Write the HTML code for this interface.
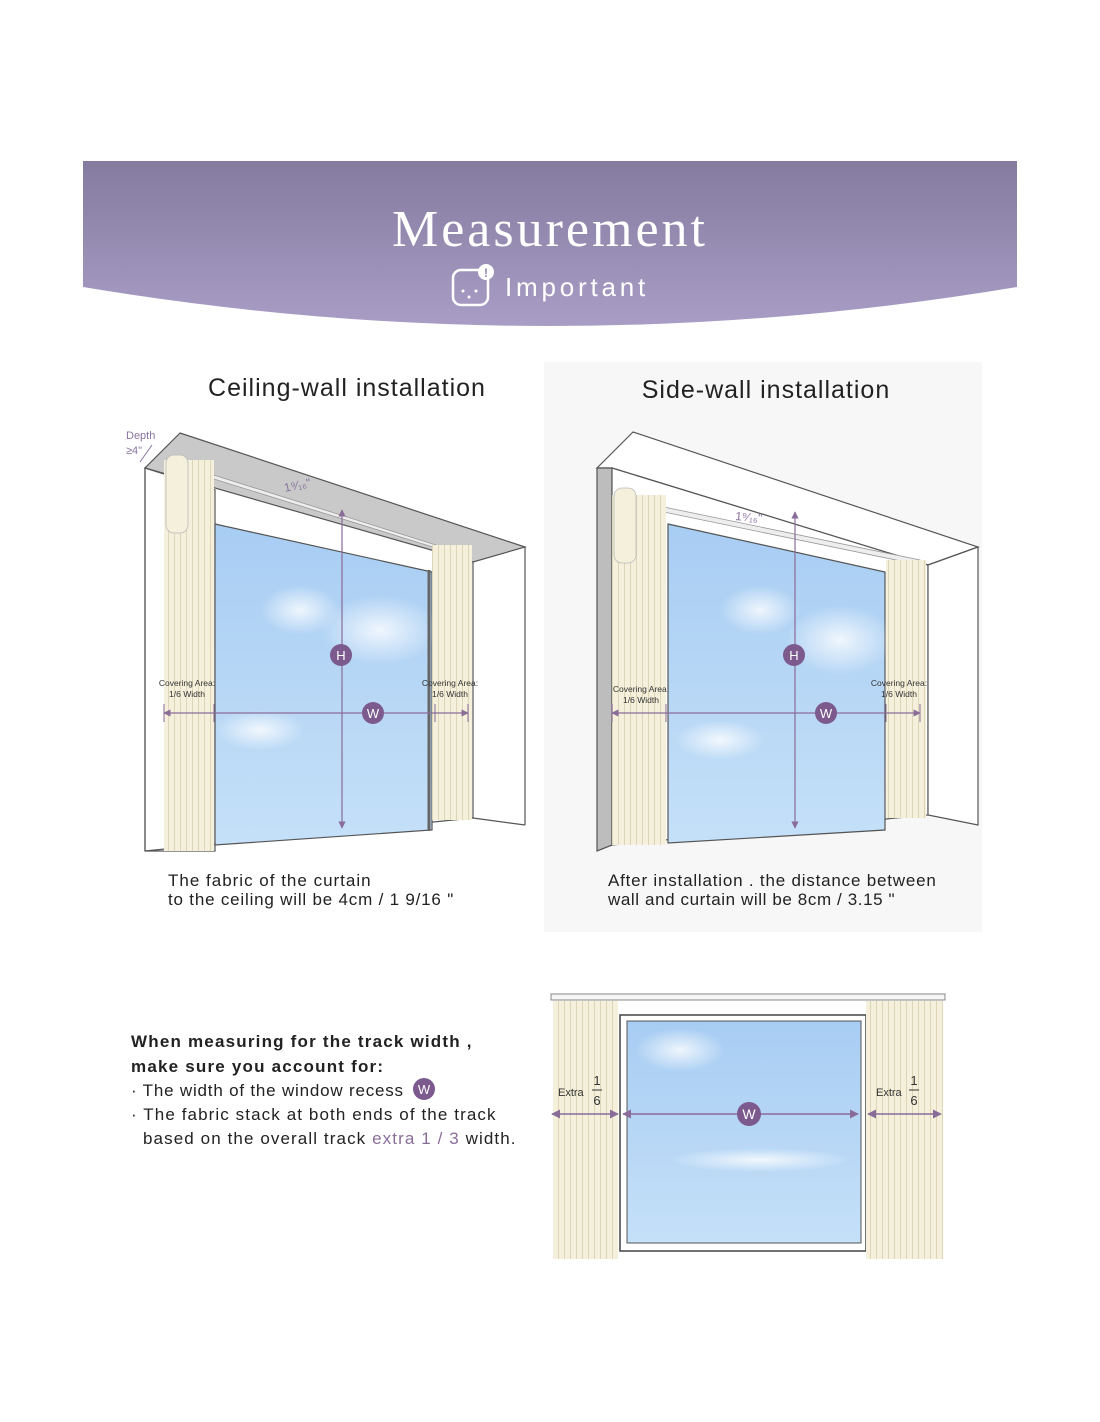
<!DOCTYPE html>
<html><head><meta charset="utf-8"><style>
html,body{margin:0;padding:0;background:#fff;}
svg{display:block;}
text{font-family:"Liberation Sans",sans-serif;}
</style></head><body>
<svg width="1100" height="1422" viewBox="0 0 1100 1422" xmlns="http://www.w3.org/2000/svg">
<defs>
<linearGradient id="hdr" x1="0" y1="0" x2="0" y2="1"><stop offset="0" stop-color="#847b9f"/><stop offset="1" stop-color="#a99dc5"/></linearGradient>
<linearGradient id="sky" x1="0" y1="0" x2="0" y2="1"><stop offset="0" stop-color="#a8cdf3"/><stop offset="1" stop-color="#c5e0f8"/></linearGradient>
<pattern id="cur" width="6" height="10" patternUnits="userSpaceOnUse"><rect width="6" height="10" fill="#f4f0dc"/><line x1="0.5" y1="0" x2="0.5" y2="10" stroke="#dcd5b6" stroke-width="1"/></pattern>
<marker id="ar" viewBox="0 0 10 10" refX="9" refY="5" markerWidth="6" markerHeight="6" orient="auto-start-reverse"><path d="M0,0L10,5L0,10z" fill="#8a6c99"/></marker>
<radialGradient id="cl"><stop offset="0" stop-color="#fff" stop-opacity=".8"/><stop offset="1" stop-color="#fff" stop-opacity="0"/></radialGradient>
</defs>

<path d="M83,161 H1017 V287 Q550,365 83,287 Z" fill="url(#hdr)"/>
<text x="550" y="246" text-anchor="middle" font-size="52" fill="#fff" letter-spacing="3" style="font-family:'Liberation Serif',serif">Measurement</text>
<rect x="453" y="270" width="35" height="35" rx="8" fill="none" stroke="#fff" stroke-width="2.5"/>
<circle cx="486" cy="272" r="8" fill="#fff"/><text x="486" y="277" text-anchor="middle" font-size="12" font-weight="bold" fill="#9186ad">!</text>
<circle cx="463" cy="291" r="1.5" fill="#fff"/><circle cx="476" cy="291" r="1.5" fill="#fff"/><circle cx="469" cy="297" r="1.5" fill="#fff"/>
<text x="505" y="296" font-size="26" fill="#fff" letter-spacing="3.8">Important</text>

<rect x="544" y="362" width="438" height="570" fill="#f7f7f7"/>

<text x="347" y="396" text-anchor="middle" font-size="25" fill="#222" letter-spacing="1">Ceiling-wall installation</text>
<text x="766" y="398" text-anchor="middle" font-size="25" fill="#222" letter-spacing="1">Side-wall installation</text>

<g stroke="#555" stroke-width="1.2">
<polygon points="180,433 525,547 473,562 145,468" fill="#c9c9c9"/>
<polygon points="145,468 215,490 215,851 145,851" fill="#fff"/>
<line x1="145" y1="468" x2="145" y2="851"/>
<line x1="473" y1="562" x2="473" y2="818"/>
<line x1="525" y1="547" x2="525" y2="825"/>
<line x1="473" y1="818" x2="525" y2="825"/>
<line x1="145" y1="851" x2="473" y2="818" />
</g>
<polygon points="215,524 432,572 432,830 215,845" fill="url(#sky)" stroke="#555" stroke-width="1.2"/>
<ellipse cx="300" cy="610" rx="40" ry="25" fill="url(#cl)"/><ellipse cx="380" cy="630" rx="60" ry="35" fill="url(#cl)"/><ellipse cx="260" cy="730" rx="45" ry="20" fill="url(#cl)"/>
<line x1="429" y1="570" x2="429" y2="831" stroke="#666" stroke-width="3"/>
<polygon points="185,466 436,545 436,548 185,470" fill="#eee" stroke="#999" stroke-width="0.8"/>
<rect x="164" y="460" width="50" height="391" fill="url(#cur)"/>
<rect x="432" y="545" width="40" height="275" fill="url(#cur)"/>
<rect x="166" y="455" width="22" height="78" rx="8" fill="#f4f0dc" stroke="#bbb" stroke-width="0.8"/>
<text x="126" y="439" font-size="11" fill="#8a74a0">Depth</text>
<text x="126" y="454" font-size="11" fill="#8a74a0">≥4"</text>
<line x1="140" y1="462" x2="152" y2="445" stroke="#8a74a0"/>
<text x="285" y="492" font-size="12" fill="#8a74a0" transform="rotate(-12 285 492)">1⁹⁄₁₆"</text>
<line x1="342" y1="510" x2="342" y2="828" stroke="#8a6c99" stroke-width="1.2" marker-start="url(#ar)" marker-end="url(#ar)"/>
<line x1="164" y1="713" x2="468" y2="713" stroke="#8a6c99" stroke-width="1.2" marker-start="url(#ar)" marker-end="url(#ar)"/>
<line x1="164" y1="704" x2="164" y2="722" stroke="#8a6c99"/><line x1="214" y1="704" x2="214" y2="722" stroke="#8a6c99"/>
<line x1="435" y1="704" x2="435" y2="722" stroke="#8a6c99"/><line x1="468" y1="704" x2="468" y2="722" stroke="#8a6c99"/>
<circle cx="341" cy="655" r="11" fill="#7c5a8d"/><text x="341" y="660" text-anchor="middle" font-size="13" fill="#fff">H</text>
<circle cx="373" cy="713" r="11" fill="#7c5a8d"/><text x="373" y="718" text-anchor="middle" font-size="13" fill="#fff">W</text>
<text x="187" y="686" text-anchor="middle" font-size="8.5" fill="#333">Covering Area:</text><text x="187" y="697" text-anchor="middle" font-size="8.5" fill="#333">1/6 Width</text>
<text x="450" y="686" text-anchor="middle" font-size="8.5" fill="#333">Covering Area:</text><text x="450" y="697" text-anchor="middle" font-size="8.5" fill="#333">1/6 Width</text>
<text x="168" y="886" font-size="17" fill="#222" letter-spacing="1">The fabric of the curtain</text>
<text x="168" y="905" font-size="17" fill="#222" letter-spacing="0.8">to the ceiling will be 4cm / 1 9/16 "</text>

<g stroke="#555" stroke-width="1.2">
<polygon points="633,432 978,547 928,565 612,468 597,468" fill="#fff"/>
<polygon points="597,468 612,468 612,845 597,851" fill="#bdbdbd"/>
<polygon points="612,468 928,565 928,815 612,845" fill="#fff"/>
<polygon points="928,565 978,547 978,825 928,815" fill="#fff"/>
<line x1="597" y1="851" x2="612" y2="845"/>
</g>
<polygon points="668,524 885,572 885,830 668,843" fill="url(#sky)" stroke="#555" stroke-width="1.2"/>
<ellipse cx="760" cy="610" rx="40" ry="25" fill="url(#cl)"/><ellipse cx="840" cy="640" rx="55" ry="35" fill="url(#cl)"/><ellipse cx="720" cy="740" rx="45" ry="20" fill="url(#cl)"/>
<polygon points="630,500 920,560 920,565 630,505" fill="#eee" stroke="#999" stroke-width="0.8"/>
<rect x="612" y="495" width="54" height="350" fill="url(#cur)"/>
<rect x="886" y="560" width="40" height="258" fill="url(#cur)"/>
<rect x="614" y="488" width="22" height="75" rx="8" fill="#f4f0dc" stroke="#bbb" stroke-width="0.8"/>
<text x="735" y="520" font-size="12" fill="#8a74a0" transform="rotate(5 735 520)">1⁹⁄₁₆"</text>
<line x1="795" y1="512" x2="795" y2="828" stroke="#8a6c99" stroke-width="1.2" marker-start="url(#ar)" marker-end="url(#ar)"/>
<line x1="612" y1="713" x2="920" y2="713" stroke="#8a6c99" stroke-width="1.2" marker-start="url(#ar)" marker-end="url(#ar)"/>
<line x1="612" y1="704" x2="612" y2="722" stroke="#8a6c99"/><line x1="666" y1="704" x2="666" y2="722" stroke="#8a6c99"/>
<line x1="886" y1="704" x2="886" y2="722" stroke="#8a6c99"/><line x1="920" y1="704" x2="920" y2="722" stroke="#8a6c99"/>
<circle cx="794" cy="655" r="11" fill="#7c5a8d"/><text x="794" y="660" text-anchor="middle" font-size="13" fill="#fff">H</text>
<circle cx="826" cy="713" r="11" fill="#7c5a8d"/><text x="826" y="718" text-anchor="middle" font-size="13" fill="#fff">W</text>
<text x="641" y="692" text-anchor="middle" font-size="8.5" fill="#333">Covering Area:</text><text x="641" y="703" text-anchor="middle" font-size="8.5" fill="#333">1/6 Width</text>
<text x="899" y="686" text-anchor="middle" font-size="8.5" fill="#333">Covering Area:</text><text x="899" y="697" text-anchor="middle" font-size="8.5" fill="#333">1/6 Width</text>
<text x="608" y="886" font-size="17" fill="#222" letter-spacing="0.8">After installation . the distance between</text>
<text x="608" y="905" font-size="17" fill="#222" letter-spacing="0.6">wall and curtain will be 8cm / 3.15 "</text>

<text x="131" y="1047" font-size="17" font-weight="bold" fill="#222" letter-spacing="1.2">When measuring for the track width ,</text>
<text x="131" y="1072" font-size="17" font-weight="bold" fill="#222" letter-spacing="1.2">make sure you account for:</text>
<text x="131" y="1096" font-size="17" fill="#222" letter-spacing="0.8">· The width of the window recess</text>
<circle cx="424" cy="1089" r="11" fill="#7c5a8d"/><text x="424" y="1094" text-anchor="middle" font-size="13" fill="#fff">W</text>
<text x="131" y="1120" font-size="17" fill="#222" letter-spacing="1.1">· The fabric stack at both ends of the track</text>
<text x="143" y="1144" font-size="17" fill="#222" letter-spacing="1.1">based on the overall track <tspan fill="#8a6c99">extra 1 / 3</tspan> width.</text>

<rect x="551" y="994" width="394" height="6" fill="#f6f6f6" stroke="#888" stroke-width="1"/>
<rect x="620" y="1015" width="246" height="236" fill="#fff" stroke="#444" stroke-width="1.5"/>
<rect x="627" y="1021" width="234" height="222" fill="url(#sky)" stroke="#555" stroke-width="1"/>
<ellipse cx="680" cy="1050" rx="45" ry="22" fill="url(#cl)"/><ellipse cx="760" cy="1160" rx="90" ry="12" fill="url(#cl)"/>
<rect x="553" y="1001" width="65" height="258" fill="url(#cur)"/>
<rect x="866" y="1001" width="77" height="258" fill="url(#cur)"/>
<line x1="552" y1="1114" x2="618" y2="1114" stroke="#8a6c99" stroke-width="1.5" marker-start="url(#ar)" marker-end="url(#ar)"/>
<line x1="623" y1="1114" x2="858" y2="1114" stroke="#8a6c99" stroke-width="1.5" marker-start="url(#ar)" marker-end="url(#ar)"/>
<line x1="868" y1="1114" x2="941" y2="1114" stroke="#8a6c99" stroke-width="1.5" marker-start="url(#ar)" marker-end="url(#ar)"/>
<circle cx="749" cy="1114" r="12" fill="#7c5a8d"/><text x="749" y="1119" text-anchor="middle" font-size="14" fill="#fff">W</text>
<text x="558" y="1096" font-size="11" fill="#333">Extra</text>
<text x="597" y="1085" text-anchor="middle" font-size="13" fill="#333">1</text><line x1="592" y1="1090" x2="602" y2="1090" stroke="#333"/><text x="597" y="1105" text-anchor="middle" font-size="13" fill="#333">6</text>
<text x="876" y="1096" font-size="11" fill="#333">Extra</text>
<text x="914" y="1085" text-anchor="middle" font-size="13" fill="#333">1</text><line x1="909" y1="1090" x2="919" y2="1090" stroke="#333"/><text x="914" y="1105" text-anchor="middle" font-size="13" fill="#333">6</text>
</svg>
</body></html>
